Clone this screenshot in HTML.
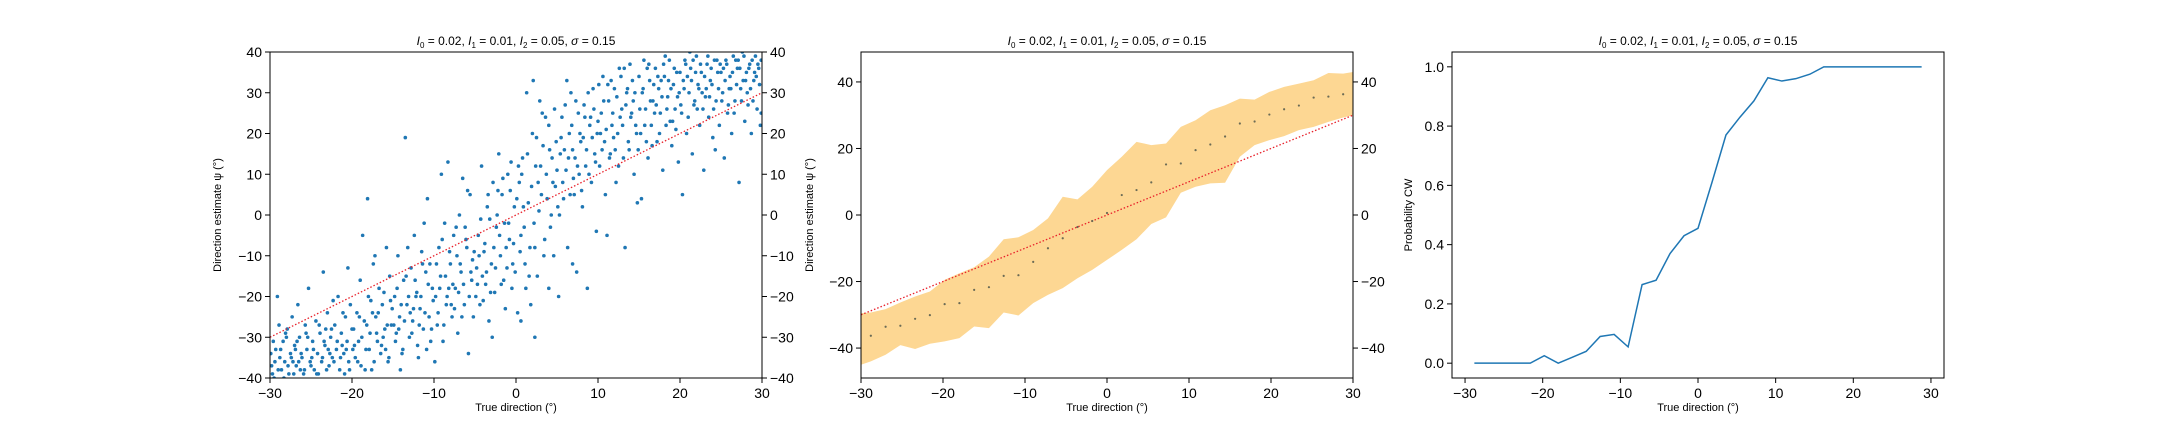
<!DOCTYPE html>
<html><head><meta charset="utf-8"><style>
html,body{margin:0;padding:0;background:#fff;}
svg{display:block;font-family:"Liberation Sans","DejaVu Sans",sans-serif;}
</style></head><body>
<svg id="fig" width="2160" height="432" viewBox="0 0 2160 432" xmlns="http://www.w3.org/2000/svg"></svg>
<script>
// ---- data ----
const scatterX = [-29.8,-29.5,-29.3,-29.1,-28.9,-28.6,-28.4,-28.2,-27.9,-27.7,-27.5,-27.3,-27.0,-26.8,-26.6,-26.4,-26.1,-25.9,-25.7,-25.5,-25.3,-25.1,-29.9,-28.0,-27.2,-26.3,-25.6,-29.6,-28.8,-26.9,
-24.8,-24.6,-24.4,-24.2,-23.9,-23.7,-23.5,-23.3,-23.0,-22.8,-22.6,-22.4,-22.1,-21.9,-21.7,-21.5,-21.3,-21.0,-20.8,-20.6,-20.4,-20.2,-24.1,-23.2,-22.3,-21.2,-20.5,-24.9,-22.9,-20.9,
-19.8,-19.6,-19.4,-19.2,-18.9,-18.7,-18.5,-18.3,-18.0,-17.8,-17.6,-17.4,-17.1,-16.9,-16.7,-16.5,-16.3,-16.0,-15.8,-15.6,-15.4,-15.2,-19.0,-18.1,-17.2,-16.2,-15.3,-19.9,-17.5,-15.9,
-14.8,-14.6,-14.4,-14.2,-13.9,-13.7,-13.5,-13.3,-13.0,-12.8,-12.6,-12.4,-12.1,-11.9,-11.7,-11.5,-11.3,-11.0,-10.8,-10.6,-10.4,-10.2,-14.1,-13.2,-12.2,-11.2,-10.5,-14.9,-12.9,-10.9,
-9.8,-9.6,-9.4,-9.2,-8.9,-8.7,-8.5,-8.3,-8.0,-7.8,-7.6,-7.4,-7.1,-6.9,-6.7,-6.5,-6.3,-6.0,-5.8,-5.6,-5.4,-5.2,-9.1,-8.2,-7.2,-6.2,-5.3,-9.9,-7.9,-5.9,
-4.8,-4.6,-4.4,-4.2,-3.9,-3.7,-3.5,-3.3,-3.0,-2.8,-2.6,-2.4,-2.1,-1.9,-1.7,-1.5,-1.3,-1.0,-0.8,-0.6,-0.4,-0.2,-4.1,-3.2,-2.2,-1.2,-0.5,-4.9,-2.9,-0.9,
0.2,0.4,0.6,0.8,1.1,1.3,1.5,1.7,2.0,2.2,2.4,2.6,2.9,3.1,3.3,3.5,3.7,4.0,4.2,4.4,4.6,4.8,0.3,1.2,2.1,3.2,4.3,0.9,2.7,4.9,
5.2,5.4,5.6,5.8,6.1,6.3,6.5,6.7,7.0,7.2,7.4,7.6,7.9,8.1,8.3,8.5,8.7,9.0,9.2,9.4,9.6,9.8,5.3,6.2,7.1,8.2,9.1,5.9,7.7,9.9,
10.2,10.4,10.6,10.8,11.1,11.3,11.5,11.7,12.0,12.2,12.4,12.6,12.9,13.1,13.3,13.5,13.7,14.0,14.2,14.4,14.6,14.8,10.3,11.2,12.1,13.2,14.3,10.9,12.7,14.9,
15.2,15.4,15.6,15.8,16.1,16.3,16.5,16.7,17.0,17.2,17.4,17.6,17.9,18.1,18.3,18.5,18.7,19.0,19.2,19.4,19.6,19.8,15.3,16.2,17.1,18.2,19.1,15.9,17.7,19.9,
20.2,20.4,20.6,20.8,21.1,21.3,21.5,21.7,22.0,22.2,22.4,22.6,22.9,23.1,23.3,23.5,23.7,24.0,24.2,24.4,24.6,24.8,20.3,21.2,22.1,23.2,24.3,20.9,22.7,24.9,
25.2,25.4,25.6,25.8,26.1,26.3,26.5,26.7,27.0,27.2,27.4,27.6,27.9,28.1,28.3,28.5,28.7,29.0,29.2,29.4,29.6,29.8,25.3,26.2,27.1,28.2,29.3,25.9,27.7,29.9,
-29.7,-29.4,-29.0,-28.7,-28.3,-28.1,-27.8,-27.4,-27.1,-26.7,-26.5,-26.2,-25.8,-25.4,-25.0,-24.7,-24.3,-24.0,-23.6,-23.4,-23.1,-22.7,-22.5,-22.2,-21.8,-21.4,-21.1,-20.7,-20.3,-20.0,
-19.7,-19.3,-19.1,-18.8,-18.4,-18.2,-17.9,-17.7,-17.3,-17.0,-16.8,-16.4,-16.1,-15.7,-15.5,-15.1,-14.7,-14.5,-14.3,-14.0,-13.8,-13.6,-13.4,-13.1,-12.7,-12.5,-12.3,-12.0,-11.8,-11.6,
-11.4,-11.1,-10.7,-10.3,-10.1,-9.7,-9.5,-9.3,-9.0,-8.8,-8.6,-8.4,-8.1,-7.7,-7.5,-7.3,-7.0,-6.8,-6.6,-6.4,-6.1,-5.7,-5.5,-5.1,-4.7,-4.5,-4.3,-4.0,-3.8,-3.6,
-3.4,-3.1,-2.7,-2.5,-2.3,-2.0,-1.8,-1.6,-1.4,-1.1,-0.7,-0.3,-0.1,0.1,0.5,0.7,1.0,1.4,1.6,1.9,2.3,2.5,2.8,3.0,3.4,3.6,3.8,4.1,4.5,4.7,
5.0,5.1,5.5,5.7,6.0,6.4,6.6,6.8,6.9,7.3,7.5,7.8,8.0,8.4,8.6,8.8,8.9,9.3,9.5,9.7,10.0,10.1,10.5,10.7,11.0,11.4,11.6,11.8,11.9,12.3,
12.5,12.8,13.0,13.4,13.6,13.8,13.9,14.1,14.5,14.7,15.0,15.1,15.5,15.7,16.0,16.4,16.6,16.8,16.9,17.3,17.5,17.8,18.0,18.4,18.6,18.8,18.9,19.3,19.5,19.7,
20.0,20.1,20.5,20.7,21.0,21.4,21.6,21.8,21.9,22.3,22.5,22.8,23.0,23.4,23.6,23.8,23.9,24.1,24.5,24.7,25.0,25.1,25.5,25.7,26.0,26.4,26.6,26.8,26.9,27.3,
27.5,27.8,28.0,28.4,28.6,28.8,28.9,29.1,29.5,29.7,29.9,1.8,4.0,6.9,0.6,2.3];
const scatterY = [-37,-40,-33,-20,-27,-38,-31,-36,-28,-39,-34,-25,-32,-37,-22,-30,-35,-39,-27,-33,-18,-36,-34,-30,-36,-38,-29,-31,-35,-33,
-31,-38,-26,-34,-29,-36,-14,-32,-24,-37,-30,-35,-27,-33,-20,-38,-29,-34,-25,-31,-36,-22,-39,-28,-21,-32,-13,-35,-33,-39,
-28,-35,-24,-31,-37,-5,-26,-33,-20,-29,-38,-12,-25,-31,-18,-34,-22,-28,-8,-36,-15,-27,-16,4,-10,-30,-21,-33,-24,-33,
-20,-29,-10,-25,-34,-16,19,-22,-30,-13,-26,-5,-19,-35,-23,-9,-28,-14,4,-25,-31,-18,-38,-8,-20,-2,-12,-27,-24,-33,
-20,-27,-8,-15,-31,-2,-22,13,-12,-25,-5,-18,-29,0,-14,9,-22,-8,-34,5,-16,-25,10,-18,-10,-3,-11,-36,-22,6,
-13,-5,-22,12,-9,-17,2,-26,-12,8,-19,-3,15,-10,5,-16,-23,10,-6,13,-12,2,-15,-1,6,-8,-18,-20,-30,-2,
-24,8,-5,14,-12,30,3,-8,20,-2,12,-15,28,5,17,-6,10,22,-3,14,-10,7,12,-18,33,25,0,2,8,18,
-20,15,24,4,11,-8,20,30,9,14,-14,25,18,2,27,12,-18,22,8,31,15,-4,0,33,5,19,24,16,10,20,
12,25,34,18,-5,28,15,22,31,8,20,36,26,14,-8,30,18,24,33,10,22,3,20,32,16,36,28,5,24,16,
20,30,38,26,14,33,22,28,36,18,31,25,11,34,22,29,38,17,32,26,35,13,4,37,27,39,23,18,33,30,
25,33,38,20,30,36,15,27,39,32,22,35,11,29,37,24,33,19,38,28,35,22,5,40,26,31,16,34,30,37,
30,14,38,25,34,20,39,28,36,8,31,40,23,35,27,37,20,33,39,26,36,22,36,31,38,30,34,27,33,38,
-39,-36,-38,-33,-40,-29,-37,-35,-39,-31,-36,-34,-38,-30,-37,-33,-39,-27,-35,-31,-38,-34,-28,-36,-31,-35,-24,-33,-38,-28,
-32,-36,-25,-30,-38,-27,-33,-21,-36,-29,-24,-32,-19,-27,-35,-23,-31,-18,-28,-22,-33,-26,-15,-20,-29,-23,-16,-32,-27,-20,
-12,-24,-17,-28,-21,-12,-24,-18,-6,-27,-15,-20,-9,-17,-23,-3,-19,-12,-25,-17,-6,-20,-14,-9,-17,-10,-1,-21,-7,-14,
5,-19,-8,-13,0,-5,-17,9,-2,-13,6,-7,-14,4,-9,10,-3,15,-15,7,-8,19,1,12,-10,24,4,16,8,26,
11,2,19,8,27,14,5,22,16,28,12,20,6,24,16,30,10,19,26,13,23,32,16,28,21,14,33,25,19,29,
12,34,22,27,31,16,37,25,30,20,34,26,31,22,36,28,17,32,25,34,20,29,37,26,33,23,31,36,21,29,
35,27,31,37,24,33,38,28,35,31,37,26,34,39,29,36,32,26,38,31,35,28,33,37,31,35,25,38,32,36,
28,39,33,36,31,38,28,35,37,32,25,-22,-18,-12,-26,-30];

const binX = [-28.8,-27,-25.2,-23.4,-21.6,-19.8,-18,-16.2,-14.4,-12.6,-10.8,-9,-7.2,-5.4,-3.6,-1.8,0,1.8,3.6,5.4,7.2,9,10.8,12.6,14.4,16.2,18,19.8,21.6,23.4,25.2,27,28.8];
const meanEst = [-36.3,-33.6,-33.3,-31.2,-30.1,-26.8,-26.5,-22.5,-21.7,-18.3,-18.1,-14.1,-10,-7,-3.6,-1.8,0.6,6,7.5,9.8,15.2,15.5,19.5,21.2,23.6,27.5,28.1,30.2,31.8,32.9,35.3,35.6,36.3];
const bandX = [-30,-28.8,-27,-25.2,-23.4,-21.6,-19.8,-18,-16.2,-14.4,-12.6,-10.8,-9,-7.2,-5.4,-3.6,-1.8,0,1.8,3.6,5.4,7.2,9,10.8,12.6,14.4,16.2,18,19.8,21.6,23.4,25.2,27,28.8,30];
const bandUpper = [-29.5,-29.3,-28.3,-26.3,-24.5,-23,-19.5,-17.5,-15.7,-12.5,-7.3,-6.7,-4.5,-1,5.5,4.7,8.5,13.5,17.5,22,21,21.5,26.5,28.5,31.5,33,35,34.7,37,38.5,39.5,40.5,42.7,42.5,43];
const bandLower = [-45,-44,-42,-39.1,-40.3,-38.7,-38,-37,-33.5,-34,-29.3,-30.2,-26.5,-24,-22,-19,-16.5,-13.5,-10.5,-7.3,-2.7,-0.7,6.7,8.5,9.5,9.7,17.5,21,22.5,23.7,25.5,26.5,28,29.3,30];
const probCW = [0,0,0,0,0,0.025,0,0.02,0.04,0.09,0.097,0.055,0.265,0.28,0.37,0.43,0.455,0.61,0.77,0.83,0.885,0.963,0.952,0.96,0.975,1,1,1,1,1,1,1,1];

const xTicks = [-30,-20,-10,0,10,20,30];
const yTicks1 = [-40,-30,-20,-10,0,10,20,30,40];
const yTicks2 = [-40,-20,0,20,40];
const yTicks3 = [0,0.2,0.4,0.6,0.8,1.0];

// ---- drawing ----
const NS = "http://www.w3.org/2000/svg";
const svg = document.getElementById('fig');
function mk(tag, attrs, parent){const e=document.createElementNS(NS,tag);for(const k in attrs)e.setAttribute(k,attrs[k]);(parent||svg).appendChild(e);return e;}
function fmt(v){return (v<0?'\u2212':'')+Math.abs(v);}
const TOP=52,BOT=378;
function makeAxes(name,L,R,x0,x1,y0,y1){
  const g=mk('g',{});
  
  
  const sx=v=>L+(v-x0)/(x1-x0)*(R-L);
  const sy=v=>BOT-(v-y0)/(y1-y0)*(BOT-TOP);
  return {g,sx,sy,L,R};
}
function frame(ax,xt,yt,yfmt,rightTicks,title,xlabel,ylabel,ylabelX){
  const g=ax.g;
  const f=mk('rect',{x:ax.L,y:TOP,width:ax.R-ax.L,height:BOT-TOP,fill:'none',stroke:'#000','stroke-width':1},g);
  
  xt.forEach(v=>{const x=ax.sx(v);
    const t=mk('line',{x1:x,x2:x,y1:BOT,y2:BOT+5,stroke:'#000'},g);
    
    const l=mk('text',{x:x,y:BOT+20,'font-size':14,'text-anchor':'middle'},g);l.textContent=fmt(v);
    });
  yt.forEach(v=>{const y=ax.sy(v);
    const t=mk('line',{x1:ax.L-5,x2:ax.L,y1:y,y2:y,stroke:'#000'},g);
    
    const l=mk('text',{x:ax.L-8,y:y+5,'font-size':14,'text-anchor':'end'},g);l.textContent=yfmt(v);
    
    if(rightTicks){
      const t2=mk('line',{x1:ax.R,x2:ax.R+5,y1:y,y2:y,stroke:'#000'},g);
      
      const l2=mk('text',{x:ax.R+8,y:y+5,'font-size':14,'text-anchor':'start'},g);l2.textContent=yfmt(v);
      }
  });
  const tt=mk('text',{x:(ax.L+ax.R)/2,y:45,'font-size':12,'text-anchor':'middle'},g);
  tt.innerHTML='<tspan font-style="italic">I</tspan><tspan font-size="8" dy="3">0</tspan><tspan dy="-3"> = 0.02, </tspan><tspan font-style="italic">I</tspan><tspan font-size="8" dy="3">1</tspan><tspan dy="-3"> = 0.01, </tspan><tspan font-style="italic">I</tspan><tspan font-size="8" dy="3">2</tspan><tspan dy="-3"> = 0.05, </tspan><tspan font-style="italic">σ</tspan><tspan> = 0.15</tspan>';
  
  const xl=mk('text',{x:(ax.L+ax.R)/2,y:411,'font-size':11,'text-anchor':'middle'},g);xl.textContent=xlabel;
  
  const yl=mk('text',{x:ylabelX,y:(TOP+BOT)/2,'font-size':11,'text-anchor':'middle',transform:`rotate(-90 ${ylabelX} ${(TOP+BOT)/2})`},g);yl.textContent=ylabel;
  
}

// Panel 1: scatter
const a1=makeAxes('scatter-panel',270,762,-30,30,-40,40);
const cp=mk('clipPath',{id:'c1'});
mk('rect',{x:270,y:TOP,width:492,height:BOT-TOP},cp);
const pts=mk('g',{'clip-path':'url(#c1)'},a1.g);
scatterX.forEach((xv,i)=>{const c=mk('circle',{cx:a1.sx(xv),cy:a1.sy(scatterY[i]),r:1.8,fill:'#1f77b4'},pts);
  });
const id1=mk('line',{x1:a1.sx(-30),y1:a1.sy(-30),x2:a1.sx(30),y2:a1.sy(30),stroke:'#e8202a','stroke-width':1.3,'stroke-dasharray':'1.5,2'},a1.g);

frame(a1,xTicks,yTicks1,fmt,true,'','True direction (°)','Direction estimate ψ (°)',221);

// Panel 2: mean + band
const a2=makeAxes('mean-panel',861,1353,-30,30,-49,49);
let d='';bandX.forEach((x,i)=>{d+=(i?'L':'M')+a2.sx(x)+','+a2.sy(bandUpper[i]);});
for(let i=bandX.length-1;i>=0;i--)d+='L'+a2.sx(bandX[i])+','+a2.sy(bandLower[i]);
const band=mk('path',{d:d+'Z',fill:'#fdd793',stroke:'none'},a2.g);

const id2=mk('line',{x1:a2.sx(-30),y1:a2.sy(-30),x2:a2.sx(30),y2:a2.sy(30),stroke:'#e8202a','stroke-width':1.3,'stroke-dasharray':'1.5,2'},a2.g);

binX.forEach((x,i)=>{const c=mk('circle',{cx:a2.sx(x),cy:a2.sy(meanEst[i]),r:1.1,fill:'#6b6b55'},a2.g);
  });
frame(a2,xTicks,yTicks2,fmt,true,'','True direction (°)','Direction estimate ψ (°)',813);

// Panel 3: probability CW
const a3=makeAxes('probability-panel',1452,1944,-31.68,31.68,-0.05,1.05);
let p='';binX.forEach((x,i)=>{p+=(i?'L':'M')+a3.sx(x)+','+a3.sy(probCW[i]);});
const ln=mk('path',{d:p,fill:'none',stroke:'#1f77b4','stroke-width':1.5},a3.g);

frame(a3,xTicks,yTicks3,v=>v.toFixed(1),false,'','True direction (°)','Probability CW',1412);
</script>
</body></html>
